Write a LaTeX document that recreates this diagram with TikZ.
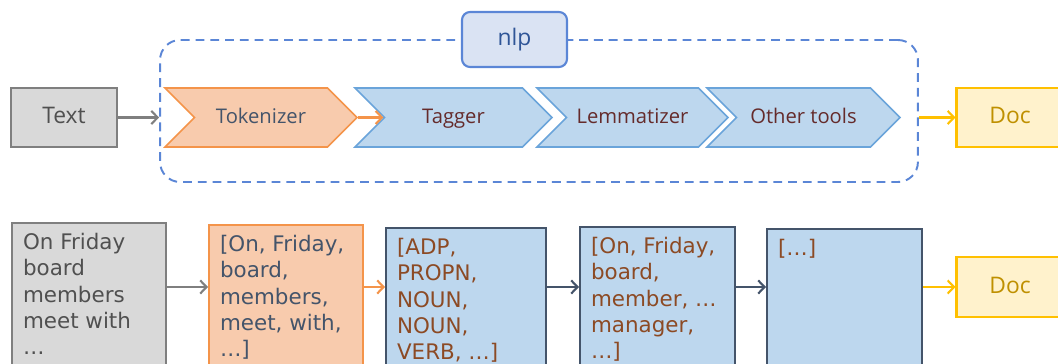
\documentclass[tikz,border=0pt]{standalone}
\usepackage{fontspec}
\setmainfont{Open Sans}
\newfontfamily\boxfont{DejaVu Sans}
\usetikzlibrary{shapes.symbols,arrows.meta}

\definecolor{grayfill}{HTML}{D9D9D9}
\definecolor{grayline}{HTML}{7F7F7F}
\definecolor{graytext}{HTML}{505050}
\definecolor{orangefill}{HTML}{F8CBAD}
\definecolor{orangeline}{HTML}{F4944A}
\definecolor{bluefill}{HTML}{BDD7EE}
\definecolor{blueline}{HTML}{6AA4DA}
\definecolor{slate}{HTML}{44546A}
\definecolor{maroon}{HTML}{652B2B}
\definecolor{brown}{HTML}{8C4A24}
\definecolor{nlpfill}{HTML}{DAE3F3}
\definecolor{nlpline}{HTML}{5B86D6}
\definecolor{nlptext}{HTML}{2F5597}
\definecolor{docfill}{HTML}{FFF2CC}
\definecolor{docline}{HTML}{FFC000}
\definecolor{doctext}{HTML}{BF9000}

\tikzset{
  flowbox/.style={rectangle, draw, line width=1.2pt, inner sep=0pt,
    minimum height=1.18cm, text height=9pt, text depth=2pt,
    font=\fontsize{13}{15}\selectfont},
  chevron/.style={signal, signal to=east, signal from=west,
    signal pointer angle=90, draw=blueline, fill=bluefill, line width=0.9pt,
    inner sep=0pt, minimum height=1.18cm, text=maroon,
    text height=8pt, text depth=1.5pt, font=\fontsize{11.5}{13}\selectfont},
  listbox/.style={rectangle, draw, line width=1.2pt, anchor=north west,
    inner xsep=0.22cm, inner ysep=0.2cm, font=\boxfont\fontsize{12.2}{15}\selectfont},
  flow/.style={-{Straight Barb[length=3.6pt,width=7.5pt]}, line width=1.2pt}
}

\begin{document}
\begin{tikzpicture}[x=0.02cm, y=-0.02cm]
    \useasboundingbox (0,0) rectangle (1058,364);

    % Pipeline
    \node[flowbox, draw=grayline, fill=grayfill, text=graytext, minimum width=2.12cm] (text) at (64,117.5) {Text};
    \node[rectangle, draw=nlpline, line width=1.1pt, dash pattern=on 5pt off 3.4pt,
          rounded corners=0.4cm, minimum width=15.16cm, minimum height=2.84cm] (pipe) at (539,111) {};
    \node[flowbox, draw=nlpline, fill=nlpfill, text=nlptext, rounded corners=0.16cm,
          minimum width=2.1cm, minimum height=1.1cm] (nlp) at (514.5,39.5) {nlp};

    \node[chevron, draw=orangeline, fill=orangefill, text=slate, minimum width=3.84cm] (tok) at (261,117.5) {Tokenizer};
    \node[chevron, minimum width=3.94cm] (tag) at (453.5,117.5) {Tagger};
    \node[chevron, minimum width=3.82cm] (lem) at (632.5,117.5) {Lemmatizer};
    \node[chevron, minimum width=3.86cm] (oth) at (803.5,117.5) {Other tools};

    \node[flowbox, draw=docline, fill=docfill, text=doctext, minimum width=2.14cm] (doc1) at (1010,117.5) {Doc};

    \draw[flow, grayline] (text.east) -- (pipe.west |- text);
    \draw[flow, orangeline] (tok.east) -- (tag.west);
    \draw[flow, docline] (pipe.east |- doc1) -- (doc1.west);

    % Data at each step
    \node[listbox, draw=grayline, fill=grayfill, text=graytext] (in) at (11,222)
        {\parbox[t][2.9cm][t]{2.64cm}{\raggedright On Friday\\board\\members\\meet with\\…}};
    \node[listbox, draw=orangeline, fill=orangefill, text=slate] (tk) at (208,224)
        {\parbox[t][2.9cm][t]{2.64cm}{\raggedright [On, Friday,\\board,\\members,\\meet, with,\\…]}};
    \node[listbox, draw=slate, fill=bluefill, text=brown] (tg) at (385,227)
        {\parbox[t][2.9cm][t]{2.76cm}{\raggedright [ADP,\\PROPN,\\NOUN,\\NOUN,\\VERB, …]}};
    \node[listbox, draw=slate, fill=bluefill, text=brown] (lm) at (579,226)
        {\parbox[t][2.9cm][t]{2.66cm}{\raggedright [On, Friday,\\board,\\member, …\\manager,\\…]}};
    \node[listbox, draw=slate, fill=bluefill, text=brown] (ot) at (766,228)
        {\parbox[t][2.9cm][t]{2.66cm}{\raggedright […]}};

    \node[flowbox, draw=docline, fill=docfill, text=doctext, minimum width=2.14cm, minimum height=1.2cm] (doc2) at (1010,287) {Doc};

    \draw[flow, grayline] (in.east |- doc2) -- (tk.west |- doc2);
    \draw[flow, orangeline] (tk.east |- doc2) -- (tg.west |- doc2);
    \draw[flow, slate] (tg.east |- doc2) -- (lm.west |- doc2);
    \draw[flow, slate] (lm.east |- doc2) -- (ot.west |- doc2);
    \draw[flow, docline] (ot.east |- doc2) -- (doc2.west);
\end{tikzpicture}
\end{document}
